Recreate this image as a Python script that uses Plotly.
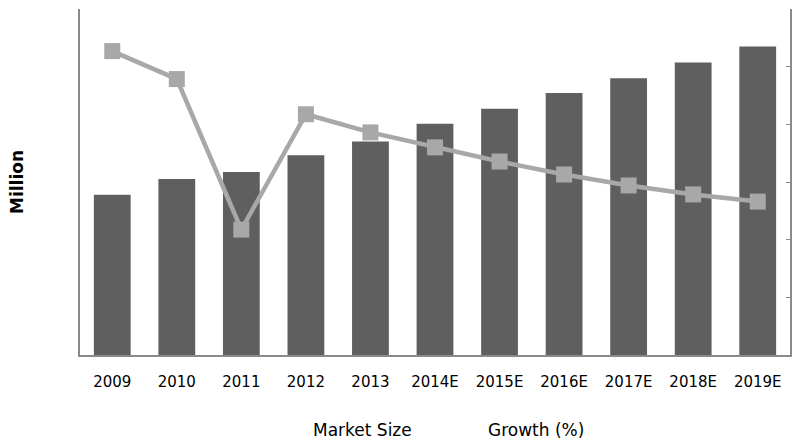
import plotly.graph_objects as go

years = ["2009", "2010", "2011", "2012", "2013", "2014E", "2015E",
         "2016E", "2017E", "2018E", "2019E"]
market_size = [162, 178, 185, 202, 216, 234, 249, 265, 280, 296, 312]
growth_pct = [10.54, 9.57, 4.35, 8.35, 7.72, 7.20, 6.71, 6.26, 5.88, 5.57, 5.32]

BAR_COLOR = "#5f5f5f"
LINE_COLOR = "#a8a8a8"
AXIS_COLOR = "#8a8a8a"
FONT = "DejaVu Sans"

fig = go.Figure()

fig.add_trace(go.Bar(
    x=years, y=market_size, name="Market Size",
    marker=dict(color=BAR_COLOR, line=dict(width=0)),
    yaxis="y",
))

fig.add_trace(go.Scatter(
    x=years, y=growth_pct, name="Growth (%)",
    mode="lines+markers",
    line=dict(color=LINE_COLOR, width=4.5),
    marker=dict(symbol="square", size=16, color=LINE_COLOR),
    yaxis="y2",
))

fig.update_layout(
    width=792, height=444,
    margin=dict(l=80, r=2, t=9, b=89, autoexpand=False),
    paper_bgcolor="white", plot_bgcolor="white",
    showlegend=False,
    bargap=0.43,
    font=dict(family=FONT, color="#000000"),
    xaxis=dict(
        range=[-0.5, 10.5], autorange=False, automargin=False,
        showline=True, linecolor=AXIS_COLOR, linewidth=1.5,
        showgrid=False, ticks="", tickfont=dict(size=15, family=FONT),
        ticklabelstandoff=12,
    ),
    yaxis=dict(
        range=[0, 350], automargin=False,
        showline=True, linecolor=AXIS_COLOR, linewidth=1.5,
        showgrid=False, ticks="", showticklabels=False, zeroline=False,
        title=dict(text="<b>Million</b>", font=dict(size=17, family=FONT), standoff=50),
    ),
    yaxis2=dict(
        range=[0, 12], dtick=2, overlaying="y", side="right", automargin=False,
        showline=True, linecolor=AXIS_COLOR, linewidth=1.5,
        showgrid=False, ticks="inside", ticklen=4, tickcolor=AXIS_COLOR,
        showticklabels=False, zeroline=False,
    ),
)

# Legend entries shown as plain text below the axis
for label, xc in [("Market Size", 362), ("Growth (%)", 536)]:
    fig.add_annotation(
        text=label, xref="paper", yref="paper",
        x=(xc - 80) / 710, y=-(430 - 355) / 346,
        xanchor="center", yanchor="middle", showarrow=False,
        font=dict(size=17, family=FONT, color="#000000"),
    )

fig.write_html("out.html")
